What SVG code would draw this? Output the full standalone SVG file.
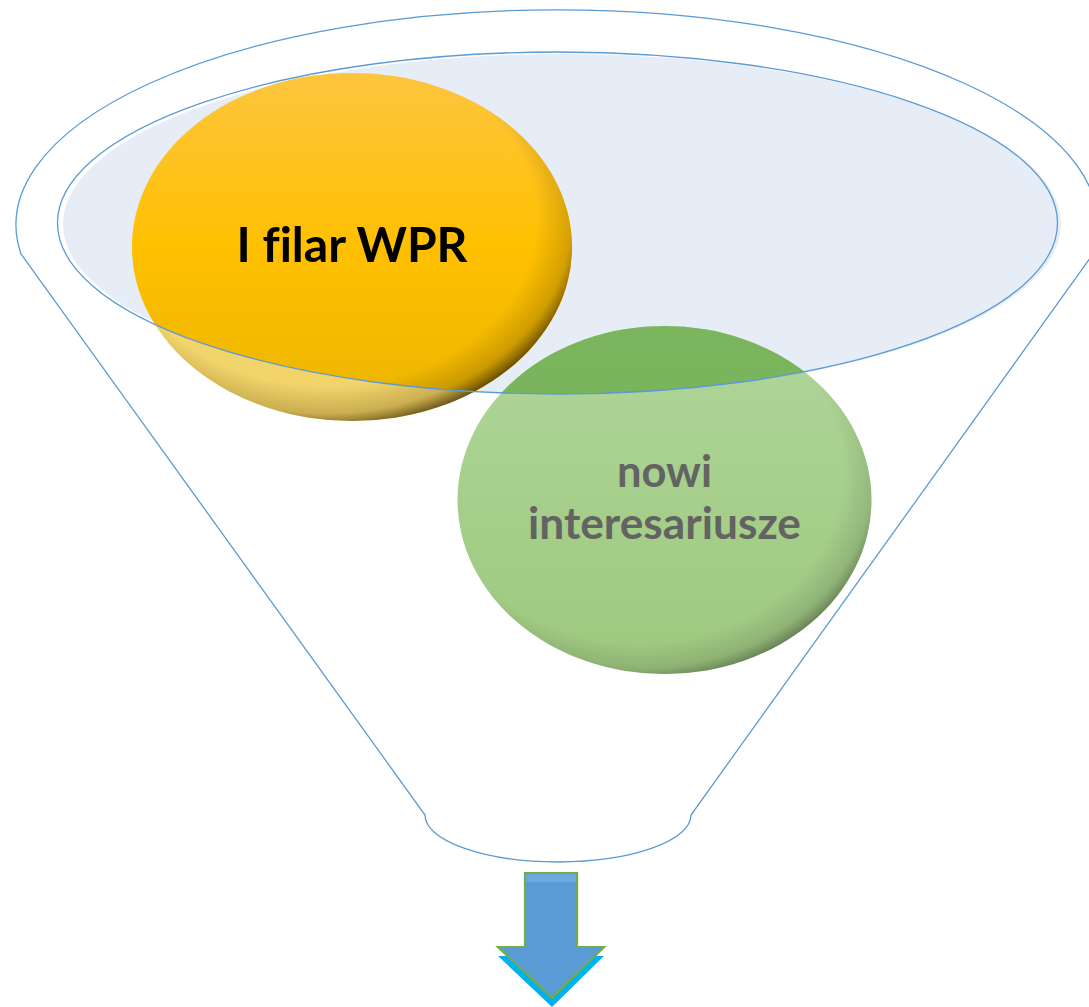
<svg xmlns="http://www.w3.org/2000/svg" width="1089" height="1007" viewBox="0 0 1089 1007">
<style>
.line{fill:none;stroke:#5B9BD5;stroke-width:1.3}
.lbl{font-family:Lato,"Liberation Sans",sans-serif;font-weight:bold;text-anchor:middle;font-variant-ligatures:none;font-feature-settings:"liga" 0}
</style>
<defs>
<clipPath id="inner"><ellipse cx="557.5" cy="223" rx="500" ry="171"/></clipPath>
<linearGradient id="ySat" x1="0" y1="0" x2="0" y2="1">
<stop offset="0" stop-color="#FDC540"/><stop offset="0.5" stop-color="#FFC000"/><stop offset="1" stop-color="#EAB500"/>
</linearGradient>
<linearGradient id="yPale" x1="0" y1="0" x2="0" y2="1">
<stop offset="0" stop-color="#F8D870"/><stop offset="1" stop-color="#F0D36A"/>
</linearGradient>
<linearGradient id="gSat" x1="0" y1="0" x2="0" y2="1">
<stop offset="0" stop-color="#7BB65E"/><stop offset="1" stop-color="#72AF52"/>
</linearGradient>
<linearGradient id="gPale" x1="0" y1="0" x2="0" y2="1">
<stop offset="0" stop-color="#B0D69B"/><stop offset="0.5" stop-color="#A6CF8B"/><stop offset="1" stop-color="#9EC77F"/>
</linearGradient>
<radialGradient id="yShade" cx="0.44" cy="0.42" r="0.6">
<stop offset="0.8" stop-color="#5a4000" stop-opacity="0"/><stop offset="0.93" stop-color="#5a4000" stop-opacity="0.25"/><stop offset="1" stop-color="#3a2800" stop-opacity="0.75"/>
</radialGradient>
<radialGradient id="gShade" cx="0.44" cy="0.42" r="0.6">
<stop offset="0.82" stop-color="#4a5a40" stop-opacity="0"/><stop offset="0.94" stop-color="#4a5a40" stop-opacity="0.2"/><stop offset="1" stop-color="#3a4a30" stop-opacity="0.55"/>
</radialGradient>
<path id="arrowShape" d="M525 873 H577 V947 H604 L552 998 L498 947 H525 Z"/>
</defs>
<rect width="1089" height="1007" fill="#FFFFFF"/>

<g id="funnel">
<path class="line" d="M21 254 A541 215 0 1 1 1093 254 L691 815 A133 47 0 0 1 425 815 Z"/>
<ellipse cx="562" cy="224" rx="499" ry="170" fill="#E6EDF7"/>
</g>

<g id="node-wpr">
<ellipse cx="352" cy="247" rx="220" ry="174" fill="url(#yPale)"/>
<ellipse cx="352" cy="247" rx="220" ry="174" fill="url(#ySat)" clip-path="url(#inner)"/>
<ellipse cx="352" cy="247" rx="220" ry="174" fill="url(#yShade)"/>
<text class="lbl" x="352" y="262" font-size="48" fill="#000000" textLength="231" lengthAdjust="spacingAndGlyphs">I filar WPR</text>
</g>

<g id="node-nowi">
<ellipse cx="664.5" cy="500" rx="207" ry="174" fill="url(#gPale)"/>
<ellipse cx="664.5" cy="500" rx="207" ry="174" fill="url(#gSat)" clip-path="url(#inner)"/>
<ellipse cx="664.5" cy="500" rx="207" ry="174" fill="url(#gShade)"/>
<text class="lbl" x="664.5" y="487" font-size="44" fill="#636363" textLength="95" lengthAdjust="spacingAndGlyphs">nowi</text>
<text class="lbl" x="664.5" y="539" font-size="44" fill="#636363" textLength="273" lengthAdjust="spacingAndGlyphs">interesariusze</text>
</g>

<g id="inner-rim">
<ellipse class="line" cx="557.5" cy="223" rx="500" ry="171"/>
</g>

<g id="connectors">
<use href="#arrowShape" transform="translate(0,9)" fill="#00B0F0"/>
<use href="#arrowShape" fill="#5B9BD5" stroke="#70AD47" stroke-width="2.2" stroke-linejoin="miter"/>
<rect x="526" y="874" width="50" height="8" fill="#6FA8DC"/>
</g>
</svg>
